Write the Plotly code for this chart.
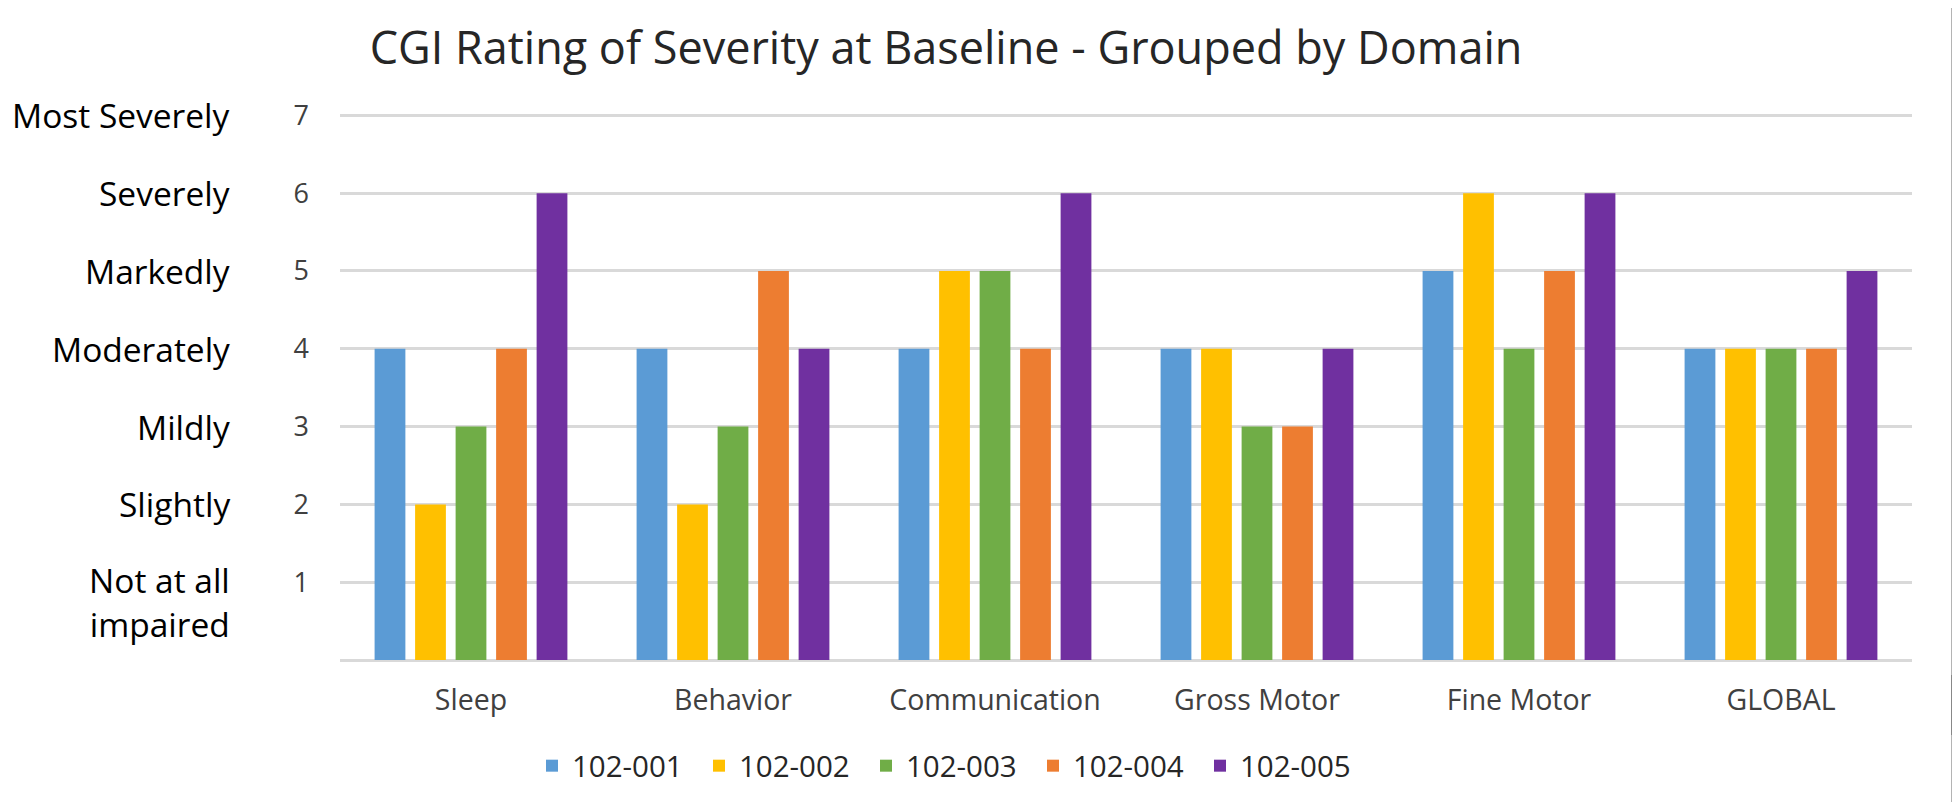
import plotly.graph_objects as go

categories = ["Sleep", "Behavior", "Communication", "Gross Motor", "Fine Motor", "GLOBAL"]
series_names = ["102-001", "102-002", "102-003", "102-004", "102-005"]
s_102_001 = [4, 4, 4, 4, 5, 4]
s_102_002 = [2, 2, 5, 4, 6, 4]
s_102_003 = [3, 3, 5, 3, 4, 4]
s_102_004 = [4, 5, 4, 3, 5, 4]
s_102_005 = [6, 4, 6, 4, 6, 5]
series_values = [s_102_001, s_102_002, s_102_003, s_102_004, s_102_005]
colors = ["#5B9BD5", "#FFC000", "#70AD47", "#ED7D31", "#7030A0"]

tick_vals = [1, 2, 3, 4, 5, 6, 7]
tick_text = ["1", "2", "3", "4", "5", "6", "7"]
severity_labels = ["Not at all<br>impaired", "Slightly", "Mildly", "Moderately",
                   "Markedly", "Severely", "Most Severely"]

FONT = "Open Sans"
W, H = 1952, 794          # page body has an 8px margin
plot_left, plot_right = 332, 1904
T, B = 105, 142
ph = H - T - B
pw = plot_right - plot_left

fig = go.Figure()
for name, vals, col in zip(series_names, series_values, colors):
    fig.add_trace(go.Bar(name=name, x=categories, y=vals, marker_color=col,
                         marker_line_width=0))

lab_x = (224 - plot_left) / pw
annotations = []
for v, lab in zip(tick_vals, severity_labels):
    if "<br>" in lab:
        annotations.append(dict(x=lab_x, xref="paper", y=v, yref="y", text=lab,
                                showarrow=False, xanchor="right", yanchor="top",
                                yshift=27, align="right",
                                font=dict(family=FONT, size=33.5, color="#000000")))
    else:
        annotations.append(dict(x=lab_x, xref="paper", y=v, yref="y", text=lab,
                                showarrow=False, xanchor="right", yanchor="middle",
                                align="right",
                                font=dict(family=FONT, size=33.5, color="#000000")))

fig.update_layout(
    width=W, height=H,
    margin=dict(l=plot_left, r=W - plot_right, t=T, b=B, pad=0),
    paper_bgcolor="white", plot_bgcolor="white",
    barmode="group", bargap=0.227, bargroupgap=0.24,
    title=dict(text="CGI Rating of Severity at Baseline - Grouped by Domain",
               x=938 / W, xref="container", xanchor="center",
               y=1 - 40 / H, yref="container", yanchor="middle",
               font=dict(family=FONT, size=45, color="#262626")),
    legend=dict(orientation="h", x=524 / W, xref="container", xanchor="left",
                y=1 - 758 / H, yref="container", yanchor="middle",
                font=dict(family=FONT, size=29.5, color="#262626"),
                itemwidth=30, traceorder="normal",
                entrywidth=122, entrywidthmode="pixels"),
    annotations=annotations,
    showlegend=True,
)
fig.update_yaxes(range=[0, 7.03], tickvals=tick_vals, ticktext=tick_text,
                 showgrid=True, gridcolor="#D9D9D9", gridwidth=2.5,
                 zeroline=True, zerolinecolor="#D9D9D9", zerolinewidth=2.5,
                 ticks="", ticklabelstandoff=30,
                 tickfont=dict(family=FONT, size=27, color="#404040"),
                 showline=False)
fig.update_xaxes(showgrid=False, ticks="", ticklabelstandoff=20,
                 tickfont=dict(family=FONT, size=28.5, color="#404040"),
                 showline=False)
line_x = (1945 - plot_left) / pw
fig.add_shape(type="line", xref="paper", yref="paper",
              x0=line_x, x1=line_x, y0=-B / ph, y1=1 + T / ph,
              line=dict(color="#B4B4B4", width=4), layer="above")
fig.add_shape(type="line", xref="paper", yref="paper",
              x0=line_x, x1=line_x, y0=(H - B - 727) / ph, y1=(H - B - 667) / ph,
              line=dict(color="#888888", width=4), layer="above")

fig.write_html("out.html")
